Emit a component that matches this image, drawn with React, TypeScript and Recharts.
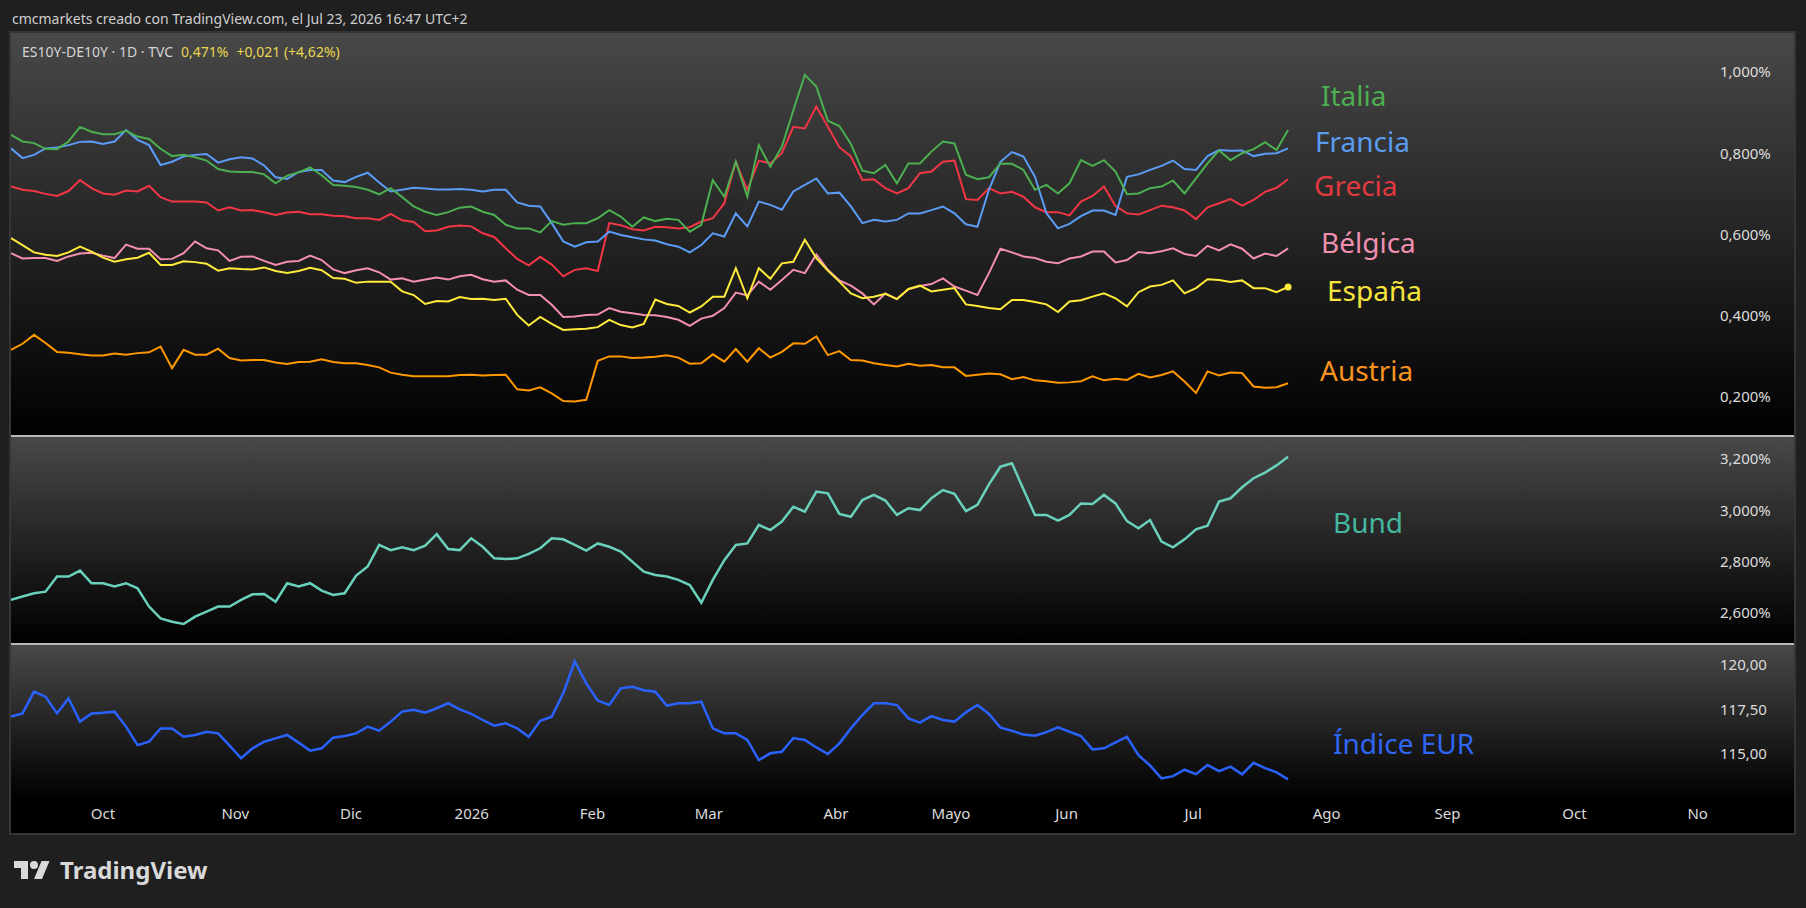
import React from 'react';
import { LineChart, Line, XAxis, YAxis } from 'recharts';

// trading-day index (every second session, first visible bar = 0)
const dayIndex = Array.from({ length: 112 }, (_, k) => k * 2);

const italia = [
  0.845, 0.829, 0.825, 0.811, 0.81, 0.829, 0.865, 0.853, 0.847, 0.847,
  0.855, 0.841, 0.835, 0.811, 0.793, 0.796, 0.79, 0.782, 0.761, 0.755,
  0.754, 0.754, 0.748, 0.726, 0.745, 0.753, 0.765, 0.746, 0.722, 0.72,
  0.717, 0.71, 0.699, 0.714, 0.692, 0.669, 0.656, 0.648, 0.655, 0.666,
  0.669, 0.656, 0.648, 0.624, 0.615, 0.615, 0.605, 0.633, 0.624, 0.628,
  0.628, 0.64, 0.66, 0.644, 0.619, 0.642, 0.633, 0.639, 0.636, 0.607,
  0.624, 0.734, 0.693, 0.779, 0.693, 0.82, 0.767, 0.816, 0.906, 0.993,
  0.964, 0.88, 0.867, 0.823, 0.757, 0.751, 0.771, 0.726, 0.775, 0.775,
  0.804, 0.829, 0.824, 0.747, 0.736, 0.741, 0.775, 0.774, 0.759, 0.71,
  0.722, 0.701, 0.726, 0.783, 0.769, 0.783, 0.755, 0.699, 0.701, 0.714,
  0.718, 0.733, 0.701, 0.738, 0.775, 0.807, 0.783, 0.8, 0.81, 0.827,
  0.808, 0.857,
];

const francia = [
  0.812, 0.788, 0.796, 0.812, 0.814, 0.82, 0.828, 0.829, 0.823, 0.829,
  0.857, 0.833, 0.82, 0.771, 0.779, 0.792, 0.796, 0.798, 0.777, 0.785,
  0.79, 0.787, 0.77, 0.741, 0.737, 0.754, 0.759, 0.759, 0.733, 0.729,
  0.742, 0.752, 0.728, 0.706, 0.71, 0.715, 0.713, 0.711, 0.711, 0.712,
  0.71, 0.706, 0.71, 0.71, 0.679, 0.671, 0.669, 0.628, 0.583, 0.57,
  0.581, 0.583, 0.607, 0.599, 0.593, 0.588, 0.585, 0.576, 0.57, 0.556,
  0.574, 0.603, 0.595, 0.652, 0.62, 0.681, 0.673, 0.661, 0.706, 0.722,
  0.738, 0.701, 0.703, 0.669, 0.628, 0.636, 0.632, 0.636, 0.652, 0.652,
  0.66, 0.669, 0.652, 0.625, 0.619, 0.71, 0.779, 0.803, 0.792, 0.742,
  0.652, 0.615, 0.626, 0.645, 0.659, 0.659, 0.648, 0.742, 0.748, 0.759,
  0.769, 0.782, 0.761, 0.759, 0.793, 0.808, 0.806, 0.807, 0.793, 0.799,
  0.8, 0.812,
];

const grecia = [
  0.718, 0.71, 0.707, 0.7, 0.695, 0.707, 0.734, 0.714, 0.701, 0.698,
  0.708, 0.706, 0.72, 0.692, 0.681, 0.681, 0.681, 0.679, 0.659, 0.667,
  0.659, 0.66, 0.655, 0.648, 0.654, 0.656, 0.65, 0.65, 0.646, 0.645,
  0.64, 0.64, 0.636, 0.651, 0.635, 0.631, 0.608, 0.61, 0.619, 0.622,
  0.62, 0.603, 0.594, 0.566, 0.54, 0.524, 0.545, 0.526, 0.497, 0.513,
  0.517, 0.51, 0.628, 0.623, 0.613, 0.61, 0.619, 0.618, 0.615, 0.618,
  0.632, 0.64, 0.677, 0.779, 0.71, 0.782, 0.775, 0.8, 0.865, 0.861,
  0.915, 0.865, 0.815, 0.792, 0.734, 0.736, 0.714, 0.701, 0.714, 0.751,
  0.755, 0.779, 0.782, 0.687, 0.685, 0.714, 0.701, 0.705, 0.693, 0.667,
  0.655, 0.655, 0.647, 0.681, 0.695, 0.718, 0.67, 0.652, 0.649, 0.66,
  0.671, 0.667, 0.659, 0.638, 0.667, 0.677, 0.687, 0.671, 0.685, 0.705,
  0.715, 0.736,
];

const belgica = [
  0.554, 0.541, 0.542, 0.542, 0.535, 0.546, 0.553, 0.555, 0.548, 0.542,
  0.575, 0.565, 0.565, 0.539, 0.54, 0.554, 0.583, 0.566, 0.561, 0.535,
  0.545, 0.546, 0.535, 0.525, 0.533, 0.535, 0.548, 0.537, 0.514, 0.505,
  0.512, 0.517, 0.507, 0.489, 0.492, 0.484, 0.489, 0.494, 0.489, 0.497,
  0.501, 0.49, 0.484, 0.487, 0.464, 0.451, 0.451, 0.427, 0.397, 0.398,
  0.402, 0.403, 0.419, 0.41, 0.406, 0.402, 0.401, 0.397, 0.39, 0.375,
  0.393, 0.4, 0.419, 0.457, 0.45, 0.484, 0.464, 0.488, 0.513, 0.505,
  0.551, 0.513, 0.487, 0.474, 0.455, 0.428, 0.455, 0.441, 0.465, 0.473,
  0.478, 0.492, 0.472, 0.462, 0.451, 0.505, 0.565, 0.556, 0.546, 0.542,
  0.533, 0.529, 0.541, 0.546, 0.558, 0.558, 0.531, 0.537, 0.557, 0.554,
  0.559, 0.566, 0.552, 0.547, 0.572, 0.561, 0.576, 0.565, 0.541, 0.553,
  0.547, 0.566,
];

const espana = [
  0.591, 0.574, 0.556, 0.55, 0.547, 0.556, 0.57, 0.558, 0.543, 0.533,
  0.539, 0.543, 0.555, 0.525, 0.525, 0.534, 0.532, 0.528, 0.511, 0.517,
  0.515, 0.514, 0.519, 0.51, 0.505, 0.51, 0.518, 0.512, 0.493, 0.491,
  0.481, 0.484, 0.484, 0.484, 0.46, 0.451, 0.429, 0.436, 0.435, 0.446,
  0.441, 0.442, 0.439, 0.442, 0.402, 0.376, 0.397, 0.38, 0.365, 0.367,
  0.368, 0.372, 0.39, 0.377, 0.371, 0.38, 0.44, 0.429, 0.424, 0.408,
  0.423, 0.447, 0.447, 0.517, 0.443, 0.517, 0.491, 0.529, 0.533, 0.587,
  0.542, 0.511, 0.484, 0.455, 0.443, 0.447, 0.454, 0.441, 0.466, 0.474,
  0.46, 0.464, 0.468, 0.428, 0.424, 0.419, 0.416, 0.439, 0.439, 0.434,
  0.428, 0.409, 0.435, 0.438, 0.447, 0.455, 0.443, 0.423, 0.458, 0.472,
  0.476, 0.487, 0.455, 0.468, 0.49, 0.488, 0.483, 0.487, 0.468, 0.468,
  0.458, 0.471,
];

const austria = [
  0.316, 0.331, 0.353, 0.333, 0.311, 0.309, 0.305, 0.302, 0.302, 0.307,
  0.304, 0.308, 0.31, 0.324, 0.271, 0.316, 0.304, 0.304, 0.319, 0.296,
  0.29, 0.291, 0.291, 0.285, 0.281, 0.286, 0.287, 0.293, 0.286, 0.283,
  0.283, 0.279, 0.273, 0.26, 0.255, 0.251, 0.251, 0.251, 0.251, 0.254,
  0.255, 0.253, 0.254, 0.255, 0.219, 0.216, 0.224, 0.209, 0.19, 0.189,
  0.193, 0.289, 0.3, 0.3, 0.296, 0.297, 0.299, 0.303, 0.297, 0.282,
  0.283, 0.305, 0.287, 0.318, 0.287, 0.32, 0.297, 0.311, 0.332, 0.331,
  0.349, 0.303, 0.313, 0.291, 0.29, 0.283, 0.279, 0.275, 0.282, 0.277,
  0.279, 0.273, 0.273, 0.252, 0.255, 0.258, 0.256, 0.244, 0.249, 0.241,
  0.239, 0.235, 0.236, 0.239, 0.251, 0.241, 0.245, 0.242, 0.257, 0.248,
  0.254, 0.263, 0.238, 0.21, 0.263, 0.253, 0.26, 0.259, 0.226, 0.223,
  0.224, 0.234,
];

const bund = [
  2.651, 2.664, 2.677, 2.683, 2.742, 2.742, 2.765, 2.716, 2.716, 2.703,
  2.716, 2.696, 2.625, 2.579, 2.566, 2.557, 2.586, 2.605, 2.625, 2.625,
  2.651, 2.673, 2.674, 2.644, 2.716, 2.703, 2.716, 2.687, 2.67, 2.677,
  2.746, 2.781, 2.865, 2.845, 2.856, 2.845, 2.862, 2.907, 2.849, 2.845,
  2.891, 2.858, 2.813, 2.81, 2.813, 2.83, 2.852, 2.891, 2.887, 2.865,
  2.843, 2.871, 2.858, 2.839, 2.8, 2.761, 2.748, 2.742, 2.729, 2.709,
  2.64, 2.729, 2.806, 2.865, 2.871, 2.943, 2.923, 2.956, 3.014, 2.995,
  3.073, 3.066, 2.986, 2.975, 3.04, 3.06, 3.038, 2.982, 3.008, 3.001,
  3.047, 3.079, 3.064, 2.997, 3.021, 3.101, 3.17, 3.183, 3.082, 2.982,
  2.982, 2.96, 2.982, 3.027, 3.025, 3.06, 3.027, 2.958, 2.93, 2.962,
  2.878, 2.856, 2.887, 2.926, 2.94, 3.034, 3.047, 3.09, 3.125, 3.147,
  3.175, 3.209,
];

const eurIndex = [
  117.1, 117.28, 118.5, 118.22, 117.28, 118.13, 116.82, 117.28, 117.32, 117.38,
  116.54, 115.5, 115.69, 116.44, 116.44, 115.97, 116.07, 116.25, 116.16, 115.47,
  114.76, 115.32, 115.69, 115.88, 116.07, 115.64, 115.19, 115.32, 115.92, 116.01,
  116.16, 116.54, 116.31, 116.82, 117.38, 117.49, 117.32, 117.57, 117.85, 117.51,
  117.25, 116.91, 116.59, 116.72, 116.44, 115.97, 116.87, 117.1, 118.41, 120.2,
  118.97, 118.0, 117.75, 118.69, 118.78, 118.58, 118.5, 117.72, 117.85, 117.85,
  117.94, 116.44, 116.16, 116.16, 115.79, 114.66, 115.04, 115.13, 115.9, 115.79,
  115.37, 115.0, 115.6, 116.44, 117.19, 117.85, 117.85, 117.75, 117.0, 116.76,
  117.13, 116.91, 116.82, 117.34, 117.75, 117.25, 116.48, 116.31, 116.09, 116.03,
  116.23, 116.5, 116.25, 116.01, 115.26, 115.32, 115.65, 115.97, 114.93, 114.36,
  113.63, 113.76, 114.12, 113.87, 114.38, 114.04, 114.29, 113.86, 114.51, 114.21,
  113.97, 113.58,
];

const monthTicks = [16, 39, 59.1, 80.1, 101.1, 121.3, 143.4, 163.4, 183.5, 205.5, 228.7, 249.7, 271.8, 293.2];
const monthLabels = ['Oct', 'Nov', 'Dic', '2026', 'Feb', 'Mar', 'Abr', 'Mayo', 'Jun', 'Jul', 'Ago', 'Sep', 'Oct', 'No'];

const spreadTicks = [0.2, 0.4, 0.6, 0.8, 1.0];
const bundTicks = [2.6, 2.8, 3.0, 3.2];
const eurTicks = [115, 117.5, 120];

const spreadData = dayIndex.map((d, k) => ({
  d,
  italia: italia[k],
  francia: francia[k],
  grecia: grecia[k],
  belgica: belgica[k],
  espana: espana[k],
  austria: austria[k],
}));
const bundData = dayIndex.map((d, k) => ({ d, bund: bund[k] }));
const eurData = dayIndex.map((d, k) => ({ d, eur: eurIndex[k] }));

const FONT = '"Noto Sans", sans-serif';
const CHART_W = 1783;
const AXIS_W = 86;
const X_DOMAIN: [number, number] = [0, 295];
const tickStyle = { fill: '#dcdcdc', fontSize: 15, fontFamily: FONT };

const comma = (v: number, digits: number) => v.toFixed(digits).replace('.', ',');

const xHidden = <XAxis dataKey="d" type="number" domain={X_DOMAIN} hide />;

const lastEspana = espana.length - 1;
const espanaDot = (p: any) =>
  p.index === lastEspana ? (
    <circle key="end" cx={p.cx} cy={p.cy} r={3.5} fill="#ffeb3b" />
  ) : (
    <g key={p.index} />
  );

const labels = [
  { text: 'Italia', x: 1321, y: 106, color: '#4cae4f' },
  { text: 'Francia', x: 1315, y: 152, color: '#5a9cf0' },
  { text: 'Grecia', x: 1314, y: 196, color: '#e2393f' },
  { text: 'Bélgica', x: 1321, y: 253, color: '#f08fb0' },
  { text: 'España', x: 1327, y: 301, color: '#f7e53b' },
  { text: 'Austria', x: 1320, y: 381, color: '#f7931e' },
  { text: 'Bund', x: 1333, y: 533, color: '#45b79f' },
  { text: 'Índice EUR', x: 1333, y: 754, color: '#2f66f5' },
];

export default function App() {
  return (
    <div
      style={{
        position: 'absolute',
        left: 0,
        top: 0,
        width: 1806,
        height: 908,
        background: '#1f1f1f',
        fontFamily: FONT,
        overflow: 'hidden',
      }}
    >
      <div
        style={{
          position: 'absolute',
          left: 11,
          top: 33,
          width: CHART_W,
          height: 800,
          background: '#000',
          outline: '2px solid #353535',
        }}
      >
        {/* spreads pane */}
        <div style={{ position: 'absolute', left: 0, top: 0, background: 'linear-gradient(#484848, #000)' }}>
          <LineChart width={CHART_W} height={403} data={spreadData} margin={{ top: 0, right: 0, bottom: 0, left: 0 }}>
            {xHidden}
            <YAxis
              orientation="right"
              width={AXIS_W}
              domain={[0.104, 1.096]}
              ticks={spreadTicks}
              axisLine={false}
              tickLine={false}
              tickMargin={6}
              tick={tickStyle}
              tickFormatter={(v: number) => comma(v, 3) + '%'}
            />
            <Line dataKey="austria" stroke="#ff9800" strokeWidth={2} dot={false} isAnimationActive={false} />
            <Line dataKey="belgica" stroke="#f48fb1" strokeWidth={2} dot={false} isAnimationActive={false} />
            <Line dataKey="espana" stroke="#ffeb3b" strokeWidth={2} dot={espanaDot} isAnimationActive={false} />
            <Line dataKey="grecia" stroke="#f23645" strokeWidth={2} dot={false} isAnimationActive={false} />
            <Line dataKey="francia" stroke="#5b9cf6" strokeWidth={2} dot={false} isAnimationActive={false} />
            <Line dataKey="italia" stroke="#4caf50" strokeWidth={2} dot={false} isAnimationActive={false} />
          </LineChart>
        </div>
        <div style={{ position: 'absolute', left: 0, top: 402, width: CHART_W, height: 2, background: '#b8b8b8' }} />

        {/* Bund pane */}
        <div style={{ position: 'absolute', left: 0, top: 404, background: 'linear-gradient(#484848, #000)' }}>
          <LineChart width={CHART_W} height={206} data={bundData} margin={{ top: 0, right: 0, bottom: 0, left: 0 }}>
            {xHidden}
            <YAxis
              orientation="right"
              width={AXIS_W}
              domain={[2.4831, 3.2857]}
              ticks={bundTicks}
              axisLine={false}
              tickLine={false}
              tickMargin={6}
              tick={tickStyle}
              tickFormatter={(v: number) => comma(v, 3) + '%'}
            />
            <Line dataKey="bund" stroke="#6ad1bd" strokeWidth={2.5} dot={false} isAnimationActive={false} />
          </LineChart>
        </div>
        <div style={{ position: 'absolute', left: 0, top: 610, width: CHART_W, height: 2, background: '#b8b8b8' }} />

        {/* EUR index pane + time axis */}
        <div
          style={{
            position: 'absolute',
            left: 0,
            top: 612,
            background: 'linear-gradient(#484848 0px, #000 155px, #000 188px)',
          }}
        >
          <LineChart width={CHART_W} height={188} data={eurData} margin={{ top: 0, right: 0, bottom: 0, left: 0 }}>
            <XAxis
              dataKey="d"
              type="number"
              domain={X_DOMAIN}
              ticks={monthTicks}
              interval={0}
              height={33}
              axisLine={false}
              tickLine={false}
              tick={tickStyle}
              tickFormatter={(v: number) => monthLabels[monthTicks.indexOf(v)] ?? ''}
            />
            <YAxis
              orientation="right"
              width={AXIS_W}
              domain={[112.42, 121.12]}
              ticks={eurTicks}
              axisLine={false}
              tickLine={false}
              tickMargin={6}
              tick={tickStyle}
              tickFormatter={(v: number) => comma(v, 2)}
            />
            <Line dataKey="eur" stroke="#2962ff" strokeWidth={2.5} dot={false} isAnimationActive={false} />
          </LineChart>
        </div>
      </div>

      <svg
        width={1806}
        height={908}
        style={{ position: 'absolute', left: 0, top: 0, pointerEvents: 'none' }}
        fontFamily={FONT}
      >
        <text x={12} y={24} fontSize={14} fill="#cfcfcf">
          cmcmarkets creado con TradingView.com, el Jul 23, 2026 16:47 UTC+2
        </text>
        <text x={22} y={57} fontSize={14} fill="#d6d6d6">
          ES10Y-DE10Y · 1D · TVC
          <tspan dx={8} fill="#ead64f">0,471%</tspan>
          <tspan dx={8} fill="#ead64f">+0,021 (+4,62%)</tspan>
        </text>
        {labels.map((l) => (
          <text key={l.text} x={l.x} y={l.y} fontSize={28} fill={l.color}>
            {l.text}
          </text>
        ))}
        <g transform="translate(14,857)" fill="#d9d9d9">
          <path d="M14 22H7V11H0V4h14v18zM28 22h-8l7.5-18h8L28 22z" />
          <circle cx={20} cy={8} r={4} />
        </g>
        <text x={60} y={879} fontSize={24} fontWeight="bold" fill="#d9d9d9">
          TradingView
        </text>
      </svg>
    </div>
  );
}
